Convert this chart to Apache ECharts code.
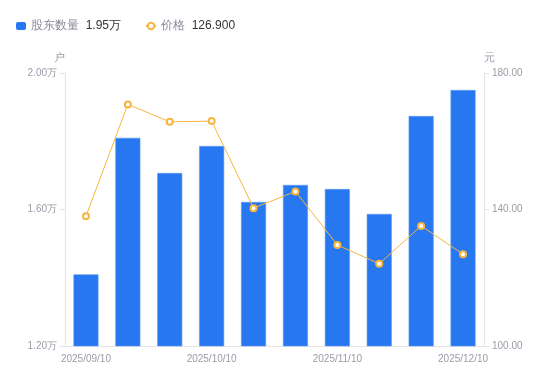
<!DOCTYPE html>
<html><head><meta charset="utf-8">
<script src="https://cdn.jsdelivr.net/npm/echarts@6/dist/echarts.min.js"></script>
<style>html,body{margin:0;padding:0;background:#fff}#c{width:550px;height:381px}</style>
</head><body><div id="c"></div>
<script>
const categories = ['2025/09/10','2025/09/20','2025/09/30','2025/10/10','2025/10/20','2025/10/31','2025/11/10','2025/11/20','2025/11/30','2025/12/10'];
const holders = [1.41, 1.81, 1.707, 1.786, 1.622, 1.672, 1.66, 1.587, 1.874, 1.95];
const prices = [138.0, 170.8, 165.7, 165.9, 140.4, 145.3, 129.6, 124.1, 135.2, 126.9];
const leftTicks = [1.2, 2.0];
const rightTicks = [100, 180];

const chart = echarts.init(document.getElementById('c'), null, {renderer:'canvas'});
const font = 'Liberation Sans, Arial, sans-serif';
chart.setOption({
  animation:false,
  textStyle:{fontFamily:font},
  legend:{
    left:11, top:15, itemWidth:10, itemHeight:8, itemGap:24,
    data:[{name:'股东数量', icon:'roundRect', itemStyle:{borderWidth:0}},{name:'价格'}],
    formatter:function(n){
      if(n==='股东数量') return '{a|'+n+'}  {b|'+holders[holders.length-1].toFixed(2)+'万}';
      return '{a|'+n+'}  {b|'+prices[prices.length-1].toFixed(3)+'}';
    },
    textStyle:{rich:{a:{color:'#8a8a99',fontSize:12,fontFamily:font},b:{color:'#333',fontSize:12,fontFamily:font}}}
  },
  grid:{left:65, right:66, top:73, bottom:35},
  xAxis:{
    type:'category', data:categories,
    axisLine:{lineStyle:{color:'#e3e3e8'}},
    axisTick:{show:false},
    axisLabel:{interval:2, color:'#9b9ba8', fontSize:10, margin:8}
  },
  yAxis:[{
    type:'value', min:leftTicks[0], max:leftTicks[1], interval:0.4,
    name:'户', nameGap:10, nameTextStyle:{color:'#9b9ba8', fontSize:11, align:'right'},
    axisLine:{show:true, lineStyle:{color:'#e3e3e8'}},
    axisTick:{show:true, length:5, lineStyle:{color:'#e3e3e8'}},
    splitLine:{show:false},
    axisLabel:{color:'#9b9ba8', fontSize:10, margin:8, formatter:v=>v.toFixed(2)+'万'}
  },{
    type:'value', min:rightTicks[0], max:rightTicks[1], interval:40,
    name:'元', nameGap:10, nameTextStyle:{color:'#9b9ba8', fontSize:11, align:'left'},
    axisLine:{show:true, lineStyle:{color:'#e3e3e8'}},
    axisTick:{show:true, length:5, lineStyle:{color:'#e3e3e8'}},
    splitLine:{show:false},
    axisLabel:{color:'#9b9ba8', fontSize:10, margin:8, formatter:v=>v.toFixed(2)}
  }],
  series:[{
    name:'股东数量', type:'bar', data:holders, yAxisIndex:0, barWidth:25,
    itemStyle:{color:'#2777f1', borderColor:'#5a98f5', borderWidth:0.6}
  },{
    name:'价格', type:'line', data:prices, yAxisIndex:1,
    symbol:'emptyCircle', symbolSize:6, z:5,
    lineStyle:{color:'#f7b640', width:1},
    itemStyle:{color:'#f7b640', borderWidth:2}
  }]
});
</script></body></html>
